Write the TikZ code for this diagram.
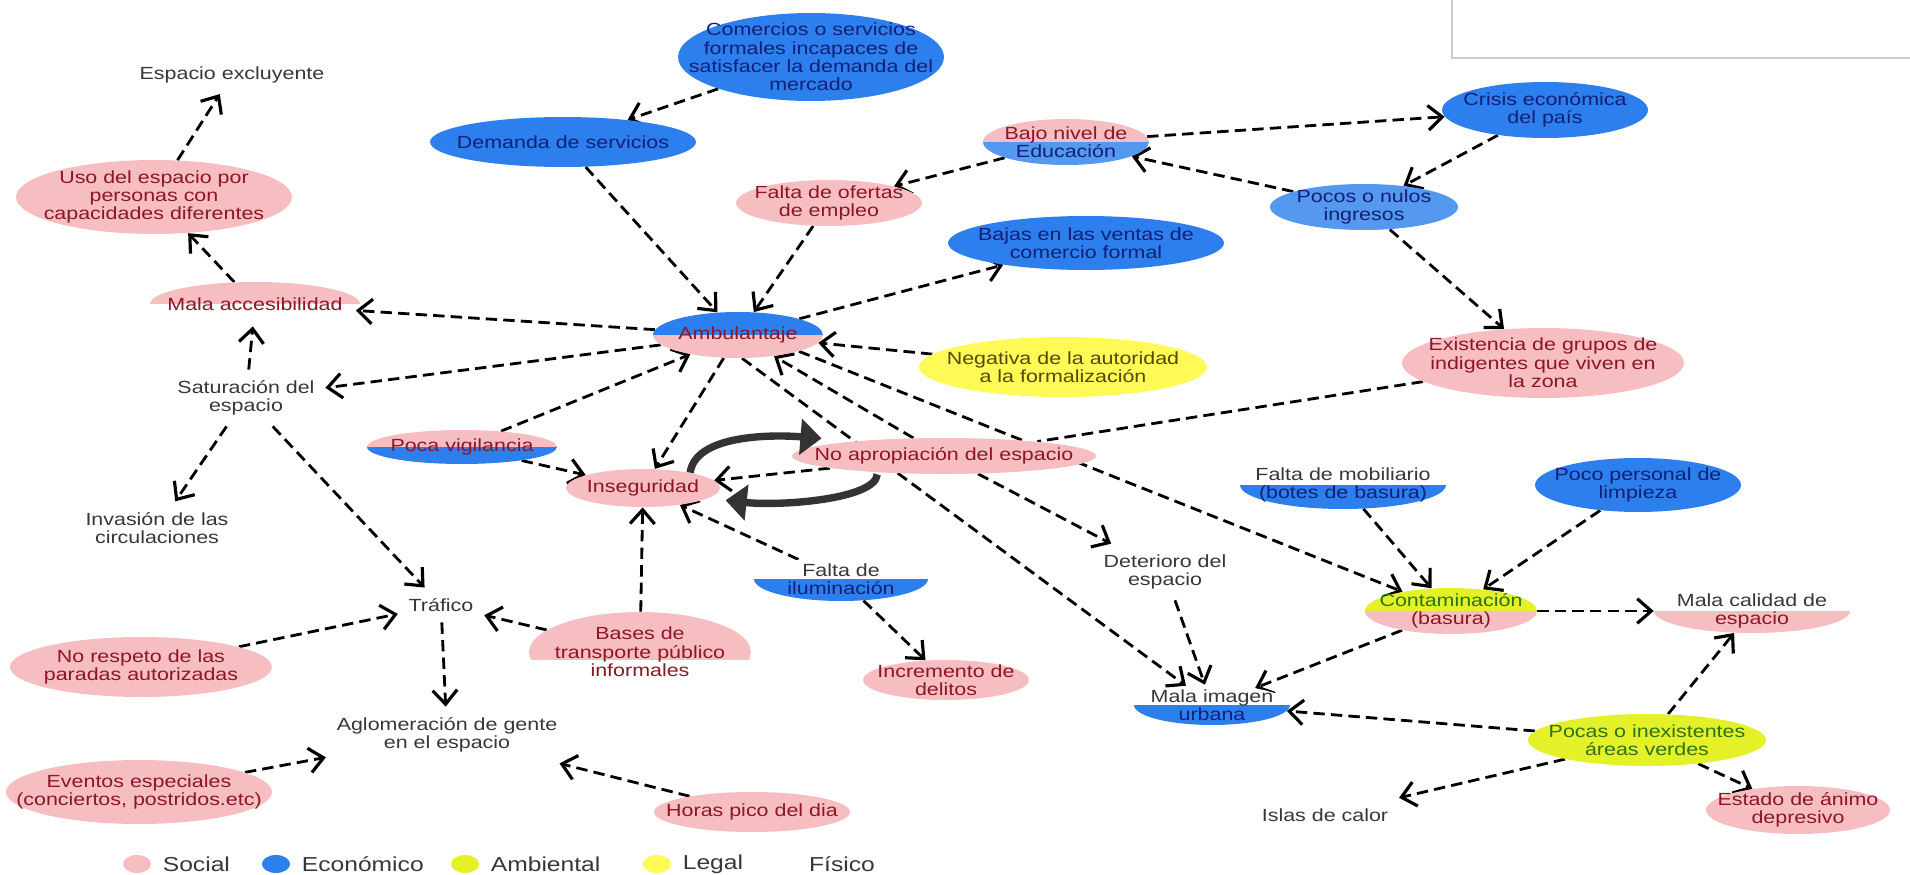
\documentclass[tikz,border=0pt]{standalone}
\usepackage{fontspec}
\setmainfont{Liberation Sans}[FakeStretch=1.22]
\usetikzlibrary{arrows.meta,positioning,shapes.geometric}

\definecolor{socialc}{RGB}{247,190,194}
\definecolor{econc}{RGB}{44,127,237}
\definecolor{econlt}{RGB}{84,152,240}
\definecolor{ambic}{RGB}{228,240,40}
\definecolor{legalc}{RGB}{255,250,85}
\definecolor{socialtx}{RGB}{140,22,38}
\definecolor{econtx}{RGB}{18,32,118}
\definecolor{fistx}{RGB}{55,55,55}
\definecolor{ambitx}{RGB}{45,115,25}
\definecolor{legaltx}{RGB}{85,72,10}

\pgfdeclarelayer{bg}
\pgfsetlayers{bg,main}

\def\cutat{0pt}
\tikzset{
  txt/.style={font=\fontsize{10}{10.5}\selectfont, align=center},
  bubble/.style={ellipse, inner sep=-50pt, txt},
  sz/.style 2 args={minimum width=#1, minimum height=#2},
  soc/.style={bubble, fill=socialc, text=socialtx},
  eco/.style={bubble, fill=econc, text=econtx},
  ecolt/.style={bubble, fill=econlt, text=econtx},
  ambi/.style={bubble, fill=ambic, text=ambitx},
  legal/.style={bubble, fill=legalc, text=legaltx},
  cutline/.code={\def\cutat{#1}},
  halves/.style 2 args={bubble, path picture={
      \fill[#1] (path picture bounding box.north west) rectangle ([yshift=\cutat]path picture bounding box.east);
      \fill[#2] ([yshift=\cutat]path picture bounding box.west) rectangle (path picture bounding box.south east);}},
  fisico/.style={txt, text=fistx, inner sep=6pt},
  nohead/.style={draw=black, line width=1.6pt, dash pattern=on 6.5pt off 3.5pt},
  link/.style={nohead, -{Straight Barb[length=8pt,width=14pt,line width=1.8pt]}},
  swoosh/.style={draw=black!80, line width=4.2pt, -{Triangle[length=12pt,width=20pt]}},
  keydot/.style={ellipse, minimum width=0.56cm, minimum height=0.36cm, inner sep=0pt},
  keytxt/.style={font=\fontsize{11.5}{12}\selectfont, text=fistx},
}

\begin{document}
\begin{tikzpicture}[x=0.02cm, y=-0.02cm]
  %%%%% START %%%%%
  \useasboundingbox (0,0) rectangle (1910,875);
  \draw[black!20, line width=0.8pt] (1452,0) -- (1452,58) -- (1910,58);

  % columna izquierda
  \node[fisico] (excl) at (232,75) {Espacio excluyente};
  \node[soc, sz={5.52cm}{1.48cm}] (uso) at (154,197) {Uso del espacio por\\personas con\\capacidades diferentes};
  \node[halves={socialc}{white}, text=socialtx, sz={4.2cm}{0.88cm}] (malacc) at (255,304) {Mala accesibilidad};
  \node[fisico] (satur) at (246,398) {Saturación del\\espacio};
  \node[fisico] (invas) at (157,528) {Invasión de las\\circulaciones};
  \node[fisico] (trafico) at (441,605) {Tráfico};
  \node[soc, sz={5.24cm}{1.2cm}] (norespeto) at (141,667) {No respeto de las\\paradas autorizadas};
  \node[fisico] (aglom) at (447,735) {Aglomeración de gente\\en el espacio};
  \node[soc, sz={5.32cm}{1.28cm}] (eventos) at (139,792) {Eventos especiales\\(conciertos, postridos.etc)};
  \node[soc, sz={3.92cm}{0.8cm}] (horas) at (752,812) {Horas pico del dia};

  % centro
  \node[eco, sz={5.32cm}{1.0cm}] (demanda) at (563,142) {Demanda de servicios};
  \node[eco, sz={5.32cm}{1.76cm}] (comercios) at (811,57) {Comercios o servicios\\formales incapaces de\\satisfacer la demanda del\\mercado};
  \node[soc, sz={3.72cm}{0.92cm}] (ofertas) at (829,203) {Falta de ofertas\\de empleo};
  \node[halves={socialc}{econlt}, sz={3.32cm}{0.92cm}] (bajo) at (1066,142) {{\color{socialtx}Bajo nivel de}\\{\color{econtx}Educación}};
  \node[eco, sz={5.52cm}{1.08cm}] (bajas) at (1086,243) {Bajas en las ventas de\\comercio formal};
  \node[halves={econc}{socialc}, text=socialtx, sz={3.4cm}{0.92cm}] (amb) at (738,335) {Ambulantaje};
  \node[legal, sz={5.76cm}{1.2cm}] (negativa) at (1063,367) {Negativa de la autoridad\\a la formalización};
  \node[halves={socialc}{econc}, text=socialtx, sz={3.8cm}{0.68cm}] (poca) at (462,447) {Poca vigilancia};
  \node[soc, sz={3.08cm}{0.76cm}] (inseg) at (643,488) {Inseguridad};
  \node[soc, sz={6.08cm}{0.72cm}] (noapro) at (944,456) {No apropiación del espacio};
  \node[halves={white}{econc}, sz={3.48cm}{0.88cm}] (ilum) at (841,579) {{\color{fistx}Falta de}\\{\color{econtx}iluminación}};
  \node[halves={socialc}{white}, cutline=-4.5pt, text=socialtx, sz={4.44cm}{1.6cm}] (bases) at (640,652) {Bases de\\transporte público\\informales};
  \node[soc, sz={3.32cm}{0.8cm}] (incremento) at (946,680) {Incremento de\\delitos};
  \node[fisico] (deterioro) at (1165,572) {Deterioro del\\espacio};
  \node[halves={white}{econc}, sz={3.12cm}{0.8cm}] (malaimg) at (1212,705) {{\color{fistx}Mala imagen}\\{\color{econtx}urbana}};

  % derecha
  \node[eco, sz={4.12cm}{1.12cm}] (crisis) at (1545,110) {Crisis económica\\del país};
  \node[ecolt, sz={3.76cm}{0.92cm}] (pocos) at (1364,207) {Pocos o nulos\\ingresos};
  \node[soc, sz={5.64cm}{1.4cm}] (existencia) at (1543,363) {Existencia de grupos de\\indigentes que viven en\\la zona};
  \node[halves={white}{econc}, sz={4.12cm}{0.96cm}] (mobil) at (1343,485) {{\color{fistx}Falta de mobiliario}\\{\color{econtx}(botes de basura)}};
  \node[eco, sz={4.12cm}{1.08cm}] (personal) at (1638,485) {Poco personal de\\limpieza};
  \node[halves={ambic}{socialc}, sz={3.44cm}{0.92cm}] (contam) at (1451,611) {{\color{ambitx}Contaminación}\\{\color{socialtx}(basura)}};
  \node[halves={white}{socialc}, sz={3.92cm}{0.88cm}] (malacal) at (1752,611) {{\color{fistx}Mala calidad de}\\{\color{socialtx}espacio}};
  \node[ambi, sz={4.76cm}{1.04cm}] (pocas) at (1647,740) {Pocas o inexistentes\\áreas verdes};
  \node[fisico] (islas) at (1325,815) {Islas de calor};
  \node[soc, sz={3.68cm}{0.96cm}] (estado) at (1798,810) {Estado de ánimo\\depresivo};

  % conectores
  \begin{pgfonlayer}{bg}
    \draw[link] (uso) -- (excl);
    \draw[link] (malacc) -- (uso);
    \draw[link] (satur) -- (malacc);
    \draw[link] (amb) -- (malacc);
    \draw[link] (amb) -- (satur);
    \draw[link] (satur) -- (invas);
    \draw[link] (satur) -- (trafico);
    \draw[link] (norespeto) -- (trafico);
    \draw[link] (bases) -- (trafico);
    \draw[link] (trafico) -- (aglom);
    \draw[link] (eventos) -- (aglom);
    \draw[link] (horas) -- (aglom);
    \draw[link] (comercios) -- (demanda);
    \draw[link] (demanda) -- (amb);
    \draw[link] (ofertas) -- (amb);
    \draw[link] (bajo) -- (ofertas);
    \draw[link] (bajo) -- (crisis);
    \draw[link] (crisis) -- (pocos);
    \draw[link] (pocos) -- (bajo);
    \draw[link] (pocos) -- (existencia);
    \draw[link] (amb) -- (bajas);
    \draw[link] (negativa) -- (amb);
    \draw[nohead] (existencia) -- (noapro);
    \draw[link] (poca) -- (amb);
    \draw[link] (poca) -- (inseg);
    \draw[link] (amb) -- (inseg);
    \draw[link] (noapro) -- (inseg);
    \draw[link] (noapro) -- (amb);
    \draw[link] (amb.-80) -- (malaimg);
    \draw[link] (amb.-15) -- (contam);
    \draw[link] (noapro) -- (deterioro);
    \draw[link] (ilum) -- (inseg);
    \draw[link] (ilum) -- (incremento);
    \draw[link] (bases) -- (inseg);
    \draw[link] (deterioro) -- (malaimg);
    \draw[link] (mobil) -- (contam);
    \draw[link] (personal) -- (contam);
    \draw[link] (contam) -- (malacal);
    \draw[link] (contam) -- (malaimg);
    \draw[link] (pocas) -- (malaimg);
    \draw[link] (pocas) -- (malacal);
    \draw[link] (pocas) -- (islas);
    \draw[link] (pocas) -- (estado);
  \end{pgfonlayer}

  % ciclo inseguridad / no apropiacion
  \draw[swoosh] (inseg.18) .. controls +(5,-38) and +(-50,-4) .. ([xshift=17pt,yshift=10pt]noapro.west);
  \draw[swoosh] ([xshift=-38pt]noapro.south) .. controls +(-2,25) and +(55,6) .. ([xshift=3pt,yshift=-7pt]inseg.east);

  % leyenda
  \node[keydot, fill=socialc] (kSoc) at (137,864) {};
  \node[keytxt, right=3pt of kSoc] (tSoc) {Social};
  \node[keydot, fill=econc] (kEco) at (276,864) {};
  \node[keytxt, right=3pt of kEco] (tEco) {Económico};
  \node[keydot, fill=ambic] (kAmb) at (465,864) {};
  \node[keytxt, right=3pt of kAmb] (tAmb) {Ambiental};
  \node[keydot, fill=legalc] (kLeg) at (657,864) {};
  \node[keytxt, right=3pt of kLeg] (tLeg) {Legal};
  \node[keytxt] (tFis) at (842,864) {Físico};
  %%%%% END %%%%%
\end{tikzpicture}
\end{document}
